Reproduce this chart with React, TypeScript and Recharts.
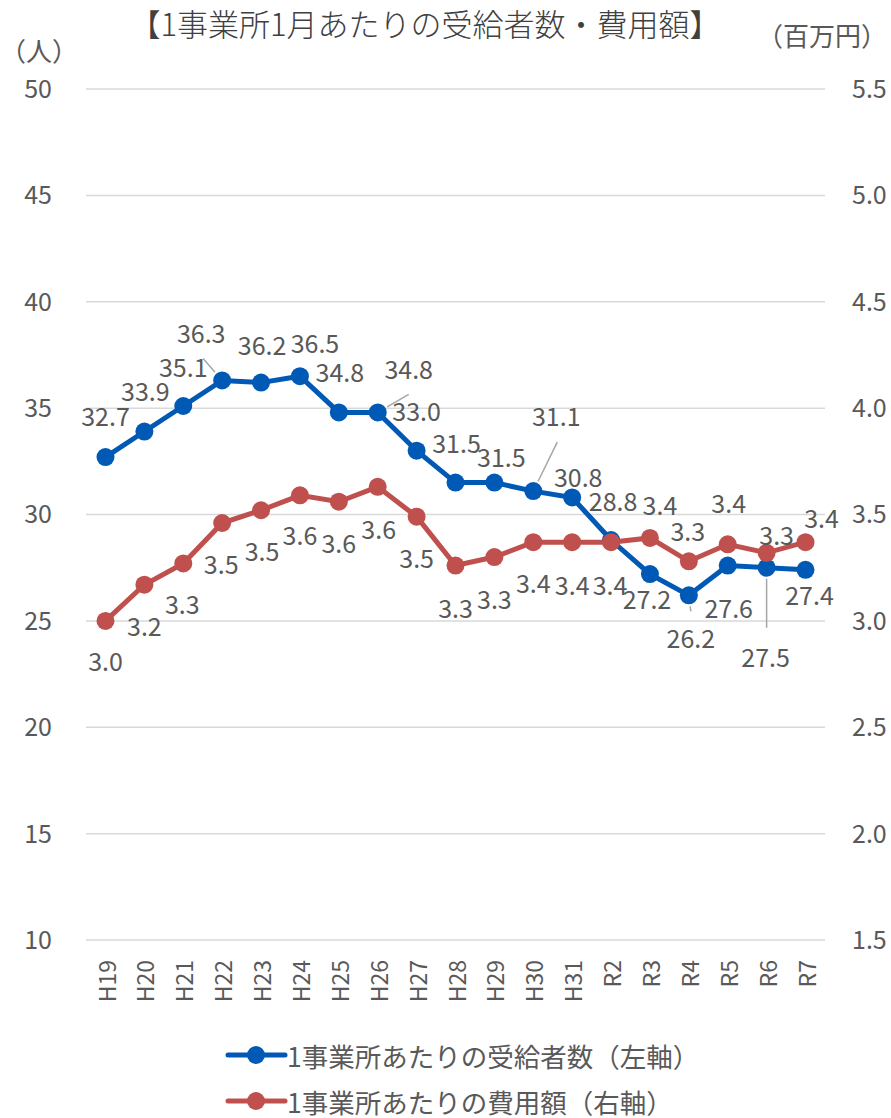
import React from "react";
import {
  LineChart,
  Line,
  XAxis,
  YAxis,
  CartesianGrid,
  Legend,
} from "recharts";

const categories = [
  "H19", "H20", "H21", "H22", "H23", "H24", "H25", "H26", "H27", "H28",
  "H29", "H30", "H31", "R2", "R3", "R4", "R5", "R6", "R7",
];

// 1事業所あたりの受給者数 (人, 左軸)
const recipients = [
  32.7, 33.9, 35.1, 36.3, 36.2, 36.5, 34.8, 34.8, 33.0, 31.5,
  31.5, 31.1, 30.8, 28.8, 27.2, 26.2, 27.6, 27.5, 27.4,
];

// 1事業所あたりの費用額 (百万円, 右軸)
const costs = [
  3.0, 3.17, 3.27, 3.46, 3.52, 3.59, 3.56, 3.63, 3.49, 3.26,
  3.3, 3.37, 3.37, 3.37, 3.39, 3.28, 3.36, 3.32, 3.37,
];

const leftTicks = [10, 15, 20, 25, 30, 35, 40, 45, 50];
const rightTicks = [1.5, 2.0, 2.5, 3.0, 3.5, 4.0, 4.5, 5.0, 5.5];

const BLUE = "#005AB5";
const RED = "#C0504D";
const TEXT = "#595959";
const FONT = '"Noto Sans CJK JP", "Noto Sans", sans-serif';

// label placement relative to each point: [dx, dy, leader end (optional)]
type Pos = [number, number, [number, number]?];
const blueLabelPos: Pos[] = [
  [0, -42], [1, -42], [0, -40], [-21, -48, [-19, -22]], [1, -39],
  [15, -34], [1, -41], [31, -44, [31, -18]], [0, -41], [1, -41],
  [7, -27], [23, -76, [24, -49]], [6, -21], [2, -40], [-3, 24],
  [2, 42, [2, 16]], [1, 41], [-1, 88, [0, 60]], [4, 24],
];
const redLabelPos: Pos[] = [
  [0, 39], [0, 40], [-1, 40], [-1, 40], [1, 40], [0, 39], [0, 40],
  [1, 41], [0, 40], [0, 41], [0, 41], [0, 40], [0, 42], [-1, 42],
  [10, -34], [-1, -31], [1, -42], [10, -19], [16, -25],
];

const data = categories.map((name, i) => ({
  name,
  recipients: recipients[i],
  costs: costs[i],
}));

const makeLabel = (pos: Pos[]) => (props: any) => {
  const { x, y, index, value } = props;
  if (x == null || y == null) return null;
  const [dx, dy, leader] = pos[index] || [0, -40];
  let lead = null;
  if (leader) {
    const len = Math.hypot(leader[0], leader[1]);
    const sx = x + (leader[0] / len) * 11;
    const sy = y + (leader[1] / len) * 11;
    lead = (
      <line
        x1={sx}
        y1={sy}
        x2={x + leader[0]}
        y2={y + leader[1]}
        stroke="#A6A6A6"
        strokeWidth={1.5}
      />
    );
  }
  return (
    <g>
      {lead}
      <text
        x={x + dx}
        y={y + dy}
        textAnchor="middle"
        dominantBaseline="central"
        fontSize={25}
        fontFamily={FONT}
        fill={TEXT}
      >
        {Number(value).toFixed(1)}
      </text>
    </g>
  );
};

const XTick = (props: any) => {
  const { x, y, payload } = props;
  return (
    <text
      x={x}
      y={y}
      transform={`rotate(-90 ${x} ${y})`}
      textAnchor="end"
      dominantBaseline="central"
      fontSize={23}
      fontFamily={FONT}
      fill={TEXT}
    >
      {payload.value}
    </text>
  );
};

const legendItems = [
  { label: "1事業所あたりの受給者数（左軸）", color: BLUE },
  { label: "1事業所あたりの費用額（右軸）", color: RED },
];

const LegendContent = () => (
  <svg width={891} height={100} style={{ display: "block" }}>
    {legendItems.map((it, i) => {
      const cy = 37 + i * 46;
      return (
        <g key={it.label}>
          <line x1={228} x2={285} y1={cy} y2={cy} stroke={it.color} strokeWidth={5} strokeLinecap="round" />
          <circle cx={256} cy={cy} r={9} fill={it.color} />
          <text
            x={287}
            y={cy}
            dominantBaseline="central"
            fontSize={26.5}
            fontFamily={FONT}
            fill={TEXT}
          >
            {it.label}
          </text>
        </g>
      );
    })}
  </svg>
);

const App = () => {
  return (
    <div
      style={{
        position: "absolute",
        left: 0,
        top: 0,
        width: 891,
        height: 1118,
        background: "#fff",
        fontFamily: FONT,
      }}
    >
      <div
        style={{
          position: "absolute",
          left: 0,
          width: 850,
          top: 7,
          textAlign: "center",
          fontSize: 31,
          fontWeight: 300,
          lineHeight: "31px",
          color: "#404040",
          whiteSpace: "nowrap",
        }}
      >
        【1事業所1月あたりの受給者数・費用額】
      </div>
      <div
        style={{
          position: "absolute",
          left: 0,
          width: 70,
          top: 37,
          textAlign: "center",
          fontSize: 26,
          lineHeight: "26px",
          color: TEXT,
          whiteSpace: "nowrap",
        }}
      >
        （人）
      </div>
      <div
        style={{
          position: "absolute",
          left: 752,
          width: 140,
          top: 22,
          textAlign: "center",
          fontSize: 26,
          lineHeight: "26px",
          color: TEXT,
          whiteSpace: "nowrap",
        }}
      >
        （百万円）
      </div>
      <LineChart
        width={891}
        height={1118}
        data={data}
        margin={{ top: 89, right: 0, bottom: 0, left: 0 }}
      >
        <CartesianGrid
          yAxisId="left"
          vertical={false}
          stroke="#D9D9D9"
          strokeWidth={1.5}
        />
        <XAxis
          dataKey="name"
          height={78}
          interval={0}
          padding={{ left: 19.5, right: 19.5 }}
          axisLine={false}
          tickLine={false}
          tickSize={0}
          tickMargin={20}
          tick={<XTick />}
        />
        <YAxis
          yAxisId="left"
          orientation="left"
          width={86}
          domain={[10, 50]}
          ticks={leftTicks}
          axisLine={false}
          tickLine={false}
          tickSize={0}
          tickMargin={34}
          tick={{ fill: TEXT, fontSize: 25, fontFamily: FONT }}
        />
        <YAxis
          yAxisId="right"
          orientation="right"
          width={66}
          domain={[1.5, 5.5]}
          ticks={rightTicks}
          axisLine={false}
          tickLine={false}
          tickSize={0}
          tickMargin={27}
          tickFormatter={(v: number) => v.toFixed(1)}
          tick={{ fill: TEXT, fontSize: 25, fontFamily: FONT }}
        />
        <Legend
          verticalAlign="bottom"
          content={<LegendContent />}
          wrapperStyle={{ left: 0 }}
        />
        <Line
          yAxisId="left"
          dataKey="recipients"
          name="1事業所あたりの受給者数（左軸）"
          stroke={BLUE}
          strokeWidth={5}
          dot={{ r: 9, fill: BLUE, stroke: "none" }}
          activeDot={false}
          isAnimationActive={false}
          label={makeLabel(blueLabelPos)}
        />
        <Line
          yAxisId="right"
          dataKey="costs"
          name="1事業所あたりの費用額（右軸）"
          stroke={RED}
          strokeWidth={5}
          dot={{ r: 9, fill: RED, stroke: "none" }}
          activeDot={false}
          isAnimationActive={false}
          label={makeLabel(redLabelPos)}
        />
      </LineChart>
    </div>
  );
};

export default App;
